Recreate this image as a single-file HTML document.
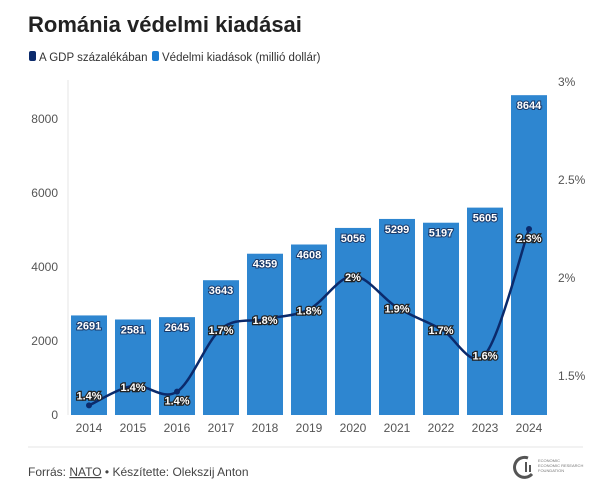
<!DOCTYPE html>
<html><head><meta charset="utf-8"><style>
body{margin:0;background:#fff;font-family:"Liberation Sans",sans-serif;}
svg{display:block}
svg text{font-family:"Liberation Sans",sans-serif;}
</style></head><body>
<svg id="s" width="605" height="491" xmlns="http://www.w3.org/2000/svg">
<rect width="605" height="491" fill="#fff"/>
<text x="28" y="32" font-size="22" font-weight="bold" fill="#222">Románia védelmi kiadásai</text>
<rect x="29" y="51" width="7" height="10" rx="2" fill="#0b2a6b"/>
<text x="39" y="61" font-size="11.5" fill="#333">A GDP százalékában</text>
<rect x="152" y="51" width="7" height="10" rx="2" fill="#1a7bd0"/>
<text x="162" y="61" font-size="11.5" fill="#333">Védelmi kiadások (millió dollár)</text>
<line x1="68" y1="80" x2="68" y2="415" stroke="#e5e5e5"/>
<g font-size="12" fill="#555" text-anchor="end">
<text x="58" y="419">0</text><text x="58" y="345">2000</text><text x="58" y="271">4000</text><text x="58" y="197">6000</text><text x="58" y="123">8000</text>
</g>
<g font-size="12" fill="#555">
<text x="558" y="86">3%</text><text x="558" y="184">2.5%</text><text x="558" y="282">2%</text><text x="558" y="380">1.5%</text>
</g>
<g id="bars"></g>
<path id="ln" fill="none" stroke="#0b2a6b" stroke-width="2.5"/>
<g id="pts"></g>
<line x1="28" y1="447" x2="583" y2="447" stroke="#e5e5e5"/>
<text x="28" y="476" font-size="12" fill="#444">Forrás: <tspan text-decoration="underline">NATO</tspan> • Készítette: Olekszij Anton</text>
<path d="M528 458 a10 10 0 1 0 4 16" fill="none" stroke="#555" stroke-width="3"/>
<rect x="525" y="462" width="2" height="10" fill="#555"/><rect x="529" y="465" width="2" height="7" fill="#555"/>
<text x="538" y="462" font-size="4" fill="#777">ECONOMIC</text>
<text x="538" y="467" font-size="4" fill="#777">ECONOMIC RESEARCH</text>
<text x="538" y="472" font-size="4" fill="#777">FOUNDATION</text>
</svg>
<script>
var v=[2691,2581,2645,3643,4359,4608,5056,5299,5197,5605,8644];
var g=[1.35,1.45,1.42,1.74,1.79,1.84,2.01,1.85,1.74,1.61,2.25];
var gl=["1.4%","1.4%","1.4%","1.7%","1.8%","1.8%","2%","1.9%","1.7%","1.6%","2.3%"];
var ns="http://www.w3.org/2000/svg",B=document.getElementById("bars"),P=document.getElementById("pts");
function el(t,a,p,tx){var e=document.createElementNS(ns,t);for(var k in a)e.setAttribute(k,a[k]);if(tx!==undefined)e.textContent=tx;p.appendChild(e);return e;}
var pts=[];
for(var i=0;i<11;i++){var cx=89+44*i,y=415-v[i]*0.037;
el("rect",{x:cx-18,y:y,width:36,height:415-y,fill:"#2e86d0"},B);
el("text",{x:cx,y:y+14,"font-size":11,"font-weight":"bold",fill:"#fff","text-anchor":"middle",stroke:"#1a3a6a","stroke-width":2,"paint-order":"stroke"},B,String(v[i]));
el("text",{x:cx,y:432,"font-size":12,fill:"#555","text-anchor":"middle"},B,String(2014+i));
pts.push([cx,474-(g[i]-1)*196]);}
var d="M"+pts[0][0]+" "+pts[0][1];
for(var i=0;i<10;i++){var p0=pts[Math.max(i-1,0)],p1=pts[i],p2=pts[i+1],p3=pts[Math.min(i+2,10)];
d+=" C"+(p1[0]+(p2[0]-p0[0])/6)+" "+(p1[1]+(p2[1]-p0[1])/6)+" "+(p2[0]-(p3[0]-p1[0])/6)+" "+(p2[1]-(p3[1]-p1[1])/6)+" "+p2[0]+" "+p2[1];}
document.getElementById("ln").setAttribute("d",d);
for(var i=0;i<11;i++){var p=pts[i];el("circle",{cx:p[0],cy:p[1],r:3,fill:"#0b2a6b"},P);
var ly=(i==0)?p[1]-6:(i==2?p[1]+13:p[1]+5);if(i==10)ly=p[1]+13;
el("text",{x:p[0],y:ly,"font-size":11,"font-weight":"bold",fill:"#fff","text-anchor":"middle",stroke:"#222","stroke-width":2.5,"paint-order":"stroke"},P,gl[i]);}
</script>
</body></html>
